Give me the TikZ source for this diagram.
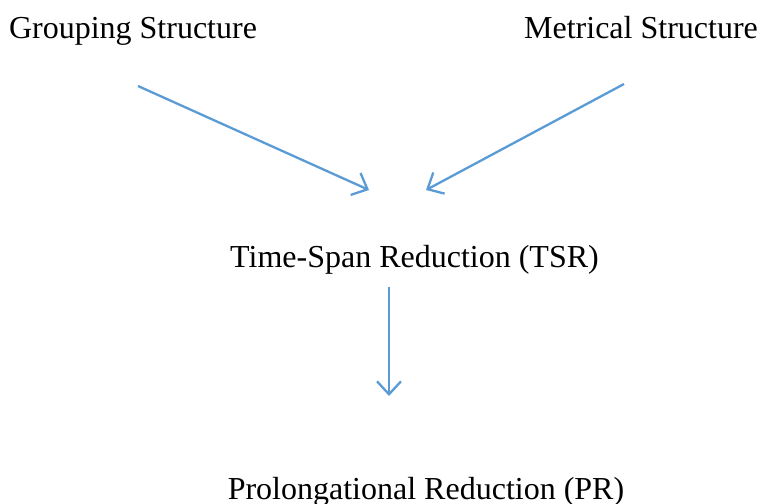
\documentclass[tikz,border=0pt]{standalone}
\usepackage{fontspec}
\setmainfont{Liberation Serif}
\usetikzlibrary{arrows.meta}
\definecolor{arrowblue}{HTML}{5B9BD5}
\begin{document}
\begin{tikzpicture}[x=1pt,y=-1pt,
  lbl/.style={inner sep=0pt,anchor=base,font=\fontsize{32}{38}\selectfont},
  conn/.style={draw=arrowblue,line width=2.3pt,-{Straight Barb[length=13pt,width=24pt,line width=2.3pt]}}]
\useasboundingbox (0,0) rectangle (762,503);
\node[lbl] (gs) at (133,39) {Grouping Structure};
\node[lbl] (ms) at (641,39) {Metrical Structure};
\node[lbl] (tsr) at (414.5,267) {Time-Span Reduction (TSR)};
\node[lbl] (pr) at (426,499) {Prolongational Reduction (PR)};
\coordinate (a1s) at (138,86);
\coordinate (a1e) at (369,190);
\coordinate (a2s) at (624,84);
\coordinate (a2e) at (426,190);
\coordinate (a3s) at (389,287);
\coordinate (a3e) at (389,396);
\draw[conn] (a1s) -- (a1e);
\draw[conn] (a2s) -- (a2e);
\draw[conn] (a3s) -- (a3e);
\end{tikzpicture}
\end{document}
